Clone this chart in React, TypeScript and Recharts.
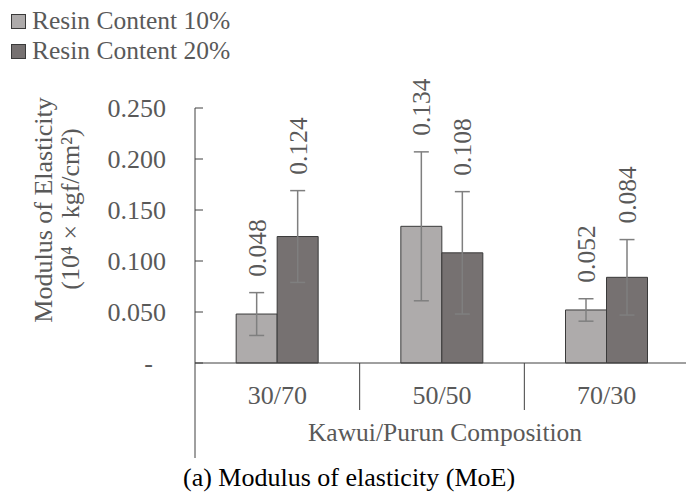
import React from 'react';
import { BarChart, Bar, XAxis, YAxis, ErrorBar, LabelList, Legend } from 'recharts';

const categories = ['30/70', '50/50', '70/30'];
const resin10 = [0.048, 0.134, 0.052];
const resin20 = [0.124, 0.108, 0.084];
const resin10Err = [0.021, 0.073, 0.011];
const resin20Err = [0.045, 0.06, 0.037];
const yTicks = [0, 0.05, 0.1, 0.15, 0.2, 0.25];

const data = categories.map((c, i) => ({
  name: c,
  r10: resin10[i],
  r20: resin20[i],
  e10: resin10Err[i],
  e20: resin20Err[i],
}));

const W = 686;
const H = 494;
const RIGHT = -3;
const FONT = '"Liberation Serif", "Times New Roman", serif';
const TEXT = '#595959';
const AXIS = '#404040';
const LIGHT = '#AEABAB';
const DARK = '#767171';
const BAR_STROKE = '#3a3a3a';
const ERR = '#7f7f7f';
const Y_AXIS_W = 195;
const BAND = (W - RIGHT - Y_AXIS_W) / categories.length;

const YTick = (props: any) => {
  const { x, y, payload } = props;
  const v = payload.value as number;
  return (
    <g>
      <line x1={x} x2={x + 8} y1={y} y2={y} stroke={AXIS} strokeWidth={1} />
      <text
        x={v === 0 ? x - 42 : x - 29}
        y={y}
        dy="0.35em"
        textAnchor="end"
        fontFamily={FONT}
        fontSize={26}
        fill={TEXT}
      >
        {v === 0 ? '-' : v.toFixed(3)}
      </text>
    </g>
  );
};

const XTick = (props: any) => {
  const { x, y, payload, index } = props;
  const left = x - BAND / 2;
  return (
    <g>
      <line x1={left} x2={left} y1={y} y2={index === 0 ? y + 95 : y + 47} stroke={AXIS} strokeWidth={1} />
      <text x={x} y={y + 32} dy="0.35em" textAnchor="middle" fontFamily={FONT} fontSize={26} fill={TEXT}>
        {payload.value}
      </text>
    </g>
  );
};

const makeValueLabel = (errs: number[]) => (props: any) => {
  const { x, y, width, height, value, index } = props;
  const pxPerUnit = height / value;
  const cx = x + width / 2;
  const bottom = y - errs[index] * pxPerUnit - 16;
  return (
    <text
      x={cx}
      y={bottom}
      dy="0.35em"
      textAnchor="start"
      transform={`rotate(-90, ${cx}, ${bottom})`}
      fontFamily={FONT}
      fontSize={25.5}
      fill={TEXT}
    >
      {Number(value).toFixed(3)}
    </text>
  );
};

const LegendContent = (props: any) => {
  const items = props.payload || [];
  return (
    <div style={{ fontFamily: FONT, fontSize: 25.5, color: TEXT, lineHeight: '30px' }}>
      {items.map((it: any) => (
        <div key={it.value} style={{ display: 'flex', alignItems: 'center' }}>
          <span
            style={{
              display: 'inline-block',
              width: 13,
              height: 13,
              background: it.color,
              border: `1px solid ${BAR_STROKE}`,
              marginRight: 6,
            }}
          />
          <span>{it.value}</span>
        </div>
      ))}
    </div>
  );
};

export default function App() {
  return (
    <div style={{ position: 'absolute', left: 0, top: 0, width: W, height: H, background: '#fff', overflow: 'hidden' }}>
      <BarChart
        width={W}
        height={H}
        data={data}
        margin={{ top: 108, right: RIGHT, bottom: 0, left: 0 }}
        barCategoryGap="25%"
        barGap={0}
      >
        <Legend
          content={<LegendContent />}
          layout="horizontal"
          verticalAlign="middle"
          align="center"
          wrapperStyle={{ position: 'absolute', left: 11, top: 6, width: 270 }}
        />
        <XAxis
          dataKey="name"
          height={131}
          axisLine={{ stroke: AXIS, strokeWidth: 1 }}
          tickLine={false}
          tickSize={0}
          tickMargin={0}
          tick={<XTick />}
          interval={0}
          label={{
            content: () => (
              <g>
                <text x={445} y={432} dy="0.35em" textAnchor="middle" fontFamily={FONT} fontSize={25.5} fill={TEXT}>
                  Kawui/Purun Composition
                </text>
                <text x={183} y={477} dy="0.35em" textAnchor="start" fontFamily={FONT} fontSize={26} fill="#000">
                  (a) Modulus of elasticity (MoE)
                </text>
              </g>
            ),
          }}
        />
        <YAxis
          width={Y_AXIS_W}
          domain={[0, 0.25]}
          ticks={yTicks}
          axisLine={{ stroke: AXIS, strokeWidth: 1 }}
          tickLine={false}
          tickSize={0}
          tickMargin={0}
          tick={<YTick />}
          interval={0}
          label={{
            content: () => (
              <g fontFamily={FONT} fontSize={26} fill={TEXT}>
                <text x={43} y={210} dy="0.35em" textAnchor="middle" transform="rotate(-90, 43, 210)">
                  Modulus of Elasticity
                </text>
                <text x={70} y={209} dy="0.35em" textAnchor="middle" transform="rotate(-90, 70, 209)">
                  (10⁴ × kgf/cm²)
                </text>
              </g>
            ),
          }}
        />
        <Bar dataKey="r10" name="Resin Content 10%" fill={LIGHT} stroke={BAR_STROKE} strokeWidth={1} isAnimationActive={false}>
          <ErrorBar dataKey="e10" width={7.5} stroke={ERR} strokeWidth={1.5} direction="y" />
          <LabelList dataKey="r10" content={makeValueLabel(resin10Err)} />
        </Bar>
        <Bar dataKey="r20" name="Resin Content 20%" fill={DARK} stroke={BAR_STROKE} strokeWidth={1} isAnimationActive={false}>
          <ErrorBar dataKey="e20" width={7.5} stroke={ERR} strokeWidth={1.5} direction="y" />
          <LabelList dataKey="r20" content={makeValueLabel(resin20Err)} />
        </Bar>
      </BarChart>
    </div>
  );
}
